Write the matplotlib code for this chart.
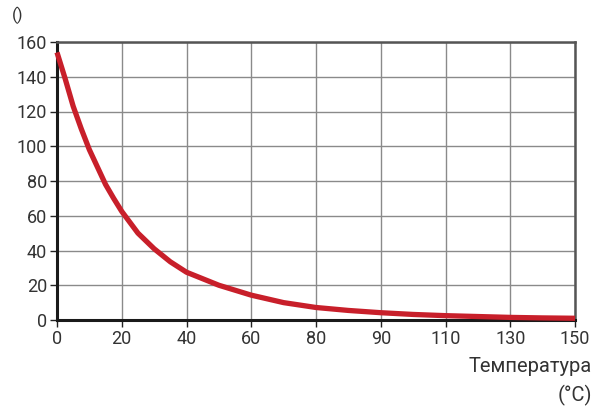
import matplotlib
matplotlib.use("Agg")
import matplotlib.pyplot as plt

plt.rcParams['font.family'] = ['Roboto', 'DejaVu Sans']

# x tick labels (evenly spaced categories on the axis)
x_labels = ["0", "20", "40", "60", "80", "90", "110", "130", "150"]
y_ticks = [0, 20, 40, 60, 80, 100, 120, 140, 160]

# curve, x given in tick-index units
curve_pos = [0, 0.125, 0.25, 0.375, 0.5, 0.625, 0.75, 0.875, 1, 1.25, 1.5, 1.75, 2,
             2.5, 3, 3.5, 4, 4.5, 5, 5.5, 6, 6.5, 7, 7.5, 8]
curve_val = [154, 139, 123, 110, 98, 88, 78, 70, 62.5, 50, 41, 33.5, 27.5,
             20, 14.3, 10, 7.2, 5.5, 4.2, 3.2, 2.5, 2.0, 1.5, 1.2, 1.0]

fig = plt.figure(figsize=(5.94, 4.07), dpi=100)
ax = fig.add_axes([57 / 594, 1 - 320 / 407, 518 / 594, 278 / 407])

ax.plot(curve_pos, curve_val, color='#c81f2a', lw=3.8, solid_capstyle='butt',
        solid_joinstyle='round', zorder=3, clip_on=False)

ax.set_xlim(0, len(x_labels) - 1)
ax.set_ylim(0, 160)
ax.set_xticks(range(len(x_labels)))
ax.set_xticklabels(x_labels)
ax.set_yticks(y_ticks)

ax.grid(True, color='#8a8a8a', lw=1.0)
ax.set_axisbelow(True)

for s in ['left', 'bottom']:
    ax.spines[s].set_color('#1a1a1a')
    ax.spines[s].set_linewidth(2.2)
for s in ['top', 'right']:
    ax.spines[s].set_color('#555555')
    ax.spines[s].set_linewidth(1.8)

txt = '#333333'
ax.tick_params(axis='both', direction='out', length=5, width=1, color='#222222',
               labelsize=13, labelcolor=txt, pad=2)

fig.text(12 / 594, 1 - 15 / 407, "()", fontsize=12, color=txt, ha='left', va='center')
fig.text(592 / 594, 1 - 366 / 407, "Температура", fontsize=14.5, color=txt, ha='right', va='center')
fig.text(592 / 594, 1 - 395 / 407, "(°C)", fontsize=14.5, color=txt, ha='right', va='center')

fig.savefig("out.png", dpi=100)
